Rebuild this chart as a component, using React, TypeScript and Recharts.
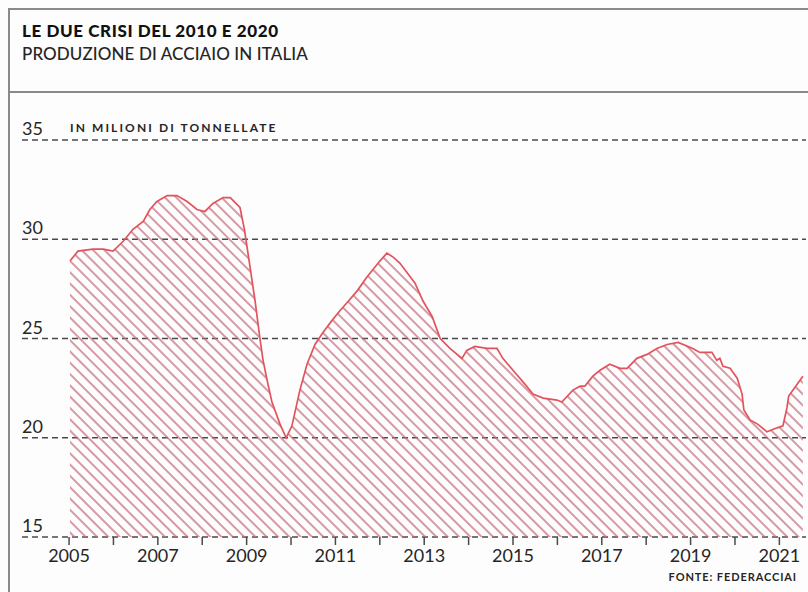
import React from 'react';
import { AreaChart, Area, XAxis, YAxis, CartesianGrid } from 'recharts';

// Rolling steel output in Italy, million tonnes, sampled along the timeline (decimal years)
const periods = [
  2005.02, 2005.2, 2005.54, 2005.77, 2005.99, 2006.22, 2006.44, 2006.67, 2006.82, 2006.98,
  2007.21, 2007.43, 2007.66, 2007.88, 2008.06, 2008.24, 2008.47, 2008.63, 2008.85, 2008.95,
  2009.05, 2009.19, 2009.3, 2009.37, 2009.48, 2009.57, 2009.75, 2009.89, 2010.02, 2010.2,
  2010.36, 2010.54, 2010.72, 2010.92, 2011.1, 2011.26, 2011.49, 2011.71, 2012.0, 2012.16,
  2012.3, 2012.45, 2012.79, 2012.97, 2013.18, 2013.36, 2013.58, 2013.85, 2013.96, 2014.14,
  2014.41, 2014.64, 2014.77, 2015.0, 2015.23, 2015.45, 2015.68, 2015.99, 2016.1, 2016.35,
  2016.51, 2016.62, 2016.8, 2016.96, 2017.18, 2017.41, 2017.57, 2017.79, 2018.02, 2018.24,
  2018.47, 2018.72, 2019.05, 2019.21, 2019.48, 2019.59, 2019.66, 2019.73, 2019.89, 2020.05,
  2020.16, 2020.2, 2020.34, 2020.5, 2020.56, 2020.72, 2020.95, 2021.08, 2021.17, 2021.21,
  2021.4, 2021.53,
];

const production = [
  28.9, 29.4, 29.5, 29.5, 29.4, 29.9, 30.5, 30.9, 31.5, 31.9,
  32.2, 32.2, 31.9, 31.5, 31.4, 31.8, 32.1, 32.1, 31.6, 30.5,
  29.0, 26.9, 25.0, 23.9, 22.7, 21.8, 20.7, 20.0, 20.6, 22.4,
  23.7, 24.7, 25.3, 25.9, 26.4, 26.8, 27.4, 28.1, 28.9, 29.3,
  29.1, 28.8, 27.8, 26.9, 26.1, 25.0, 24.5, 24.0, 24.4, 24.6,
  24.5, 24.5, 24.0, 23.4, 22.8, 22.2, 22.0, 21.9, 21.8, 22.4,
  22.6, 22.6, 23.1, 23.4, 23.7, 23.5, 23.5, 24.0, 24.2, 24.5,
  24.7, 24.8, 24.5, 24.3, 24.3, 23.9, 24.0, 23.6, 23.5, 23.0,
  22.2, 21.4, 20.9, 20.7, 20.6, 20.3, 20.5, 20.6, 21.5, 22.1,
  22.7, 23.1,
];

const tickYears = [
  2005, 2006, 2007, 2008, 2009, 2010, 2011, 2012, 2013, 2014,
  2015, 2016, 2017, 2018, 2019, 2020, 2021,
];
const valueTicks = [15, 20, 25, 30, 35];

const title = 'LE DUE CRISI DEL 2010 E 2020';
const subtitle = 'PRODUZIONE DI ACCIAIO IN ITALIA';
const unitLabel = 'IN MILIONI DI TONNELLATE';
const source = 'FONTE: FEDERACCIAI';

const data = periods.map((t, i) => ({ t, v: production[i] }));

const FONT = 'Lato, "Open Sans", sans-serif';
const INK = '#262626';
const RED = '#e2535d';
const HATCH = '#c56f7e';
const FRAME = '#8a8a8a';

// value labels sit just above their gridline, flush with the left edge of the plot
const ValueTick = (props: any) => {
  const { x, y, payload } = props;
  return (
    <text x={x} y={y - 5} fill={INK} fontSize={18} fontFamily={FONT} textAnchor="start">
      {payload.value}
    </text>
  );
};

export default function App() {
  return (
    <div
      style={{
        position: 'absolute',
        left: 0,
        top: 0,
        width: 808,
        height: 592,
        background: '#fdfdfd',
        overflow: 'hidden',
        fontFamily: FONT,
      }}
    >
      {/* frame */}
      <div style={{ position: 'absolute', left: 8, top: 8, width: 2, height: 584, background: FRAME }} />
      <div style={{ position: 'absolute', left: 8, top: 8, width: 800, height: 2, background: FRAME }} />
      <div style={{ position: 'absolute', left: 8, top: 91, width: 800, height: 2, background: FRAME }} />

      <div
        style={{
          position: 'absolute',
          left: 22,
          top: 21,
          fontSize: 17,
          fontWeight: 900,
          color: '#111',
          letterSpacing: 0.6,
          lineHeight: '20px',
          whiteSpace: 'nowrap',
        }}
      >
        {title}
      </div>
      <div
        style={{
          position: 'absolute',
          left: 22,
          top: 43,
          fontSize: 17,
          fontWeight: 500,
          color: INK,
          letterSpacing: 0.1,
          lineHeight: '22px',
          whiteSpace: 'nowrap',
        }}
      >
        {subtitle}
      </div>

      <AreaChart
        width={808}
        height={592}
        data={data}
        margin={{ top: 140, right: 2, left: 0, bottom: 0 }}
        style={{ position: 'absolute', left: 0, top: 0 }}
      >
        <defs>
          <pattern
            id="hatch"
            patternUnits="userSpaceOnUse"
            width={8}
            height={8}
            patternTransform="rotate(-45)"
          >
            <line x1={1} y1={0} x2={1} y2={8} stroke={HATCH} strokeWidth={1.4} />
          </pattern>
        </defs>
        <CartesianGrid
          vertical={false}
          horizontal
          stroke="#4a4a4a"
          strokeWidth={1.4}
          strokeDasharray="6 4"
        />
        <XAxis
          dataKey="t"
          type="number"
          domain={[2003.94, 2021.6]}
          allowDataOverflow
          ticks={tickYears}
          interval={0}
          height={55}
          axisLine={false}
          tickLine={{ stroke: '#4a4a4a', strokeWidth: 1.5 }}
          tickSize={8}
          tickMargin={4}
          tickFormatter={(y: number) => (y % 2 === 1 ? String(y) : '')}
          tick={{ fill: INK, fontSize: 18, fontFamily: FONT }}
        />
        <YAxis
          type="number"
          domain={[15, 35]}
          ticks={valueTicks}
          interval={0}
          width={22}
          axisLine={false}
          tickLine={false}
          tickSize={0}
          tickMargin={0}
          tick={<ValueTick />}
        />
        <Area
          type="linear"
          dataKey="v"
          stroke={RED}
          strokeWidth={1.7}
          fill="url(#hatch)"
          fillOpacity={1}
          isAnimationActive={false}
          dot={false}
          activeDot={false}
        />
      </AreaChart>

      <div
        style={{
          position: 'absolute',
          left: 70,
          top: 120,
          fontSize: 12,
          fontWeight: 700,
          color: INK,
          letterSpacing: 2.1,
          lineHeight: '16px',
          whiteSpace: 'nowrap',
        }}
      >
        {unitLabel}
      </div>
      <div
        style={{
          position: 'absolute',
          right: 11,
          top: 570,
          fontSize: 11,
          fontWeight: 700,
          color: INK,
          letterSpacing: 0.9,
          lineHeight: '14px',
          whiteSpace: 'nowrap',
        }}
      >
        {source}
      </div>
    </div>
  );
}
